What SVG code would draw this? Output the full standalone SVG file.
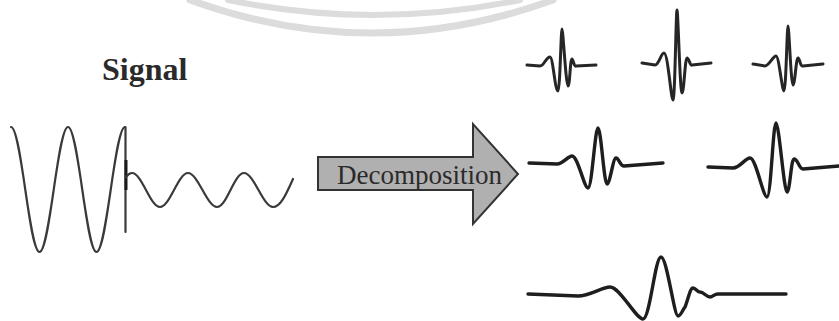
<svg xmlns="http://www.w3.org/2000/svg" width="839" height="321" viewBox="0 0 839 321">
<style>
.wm{fill:none;stroke:#dcdcdc;stroke-linecap:round}
.sig{fill:none;stroke:#3a3a3a;stroke-width:2.2;stroke-linejoin:round;stroke-linecap:round}
.wav{fill:none;stroke:#262626;stroke-width:3;stroke-linejoin:round;stroke-linecap:round}
.wav2{fill:none;stroke:#1e1e1e;stroke-width:3.4;stroke-linejoin:round;stroke-linecap:round}
.lbl{fill:#2a2a2a}
</style>
<rect width="839" height="321" fill="#ffffff"/>
<g id="watermark">
<path class="wm" stroke-width="7" d="M190,0 Q371,66 553,0"/>
<path class="wm" stroke-width="6" d="M228,0 Q374,30 520,0"/>
</g>
<g id="signal">
<text class="lbl" font-family="'Liberation Serif', 'Times New Roman', serif" x="102" y="80" font-size="32" font-weight="bold" fill="#333">Signal</text>
<path class="sig" d="M11,127 C21.3,127 29.2,252 39.5,252 C49.8,252 57.7,127 68,127 C78.3,127 86.2,252 96.5,252 C106.8,252 114.7,127 125,127"/>
<path class="sig" d="M125.5,127 L125.5,232"/>
<path d="M126,160 L126,190" stroke="#1a1a1a" stroke-width="3" fill="none"/>
<path class="sig" d="M126,177 Q129,173 132,173 C142,173 150,207 160,207 C170,207 178,173 188,173 C198,173 207,207 217,207 C227,207 234,173 244,173 C254,173 263,207 273,207 C281,207 287,192 293,179"/>
</g>
<g id="decomposition">
<polygon points="318,157 473,157 473,124 518,174 473,224 473,190 318,190" fill="#b0b0b0" stroke="#333" stroke-width="2" stroke-linejoin="miter"/>
<text class="lbl" font-family="'Liberation Serif', 'Times New Roman', serif" x="337" y="184" font-size="28" textLength="165" lengthAdjust="spacingAndGlyphs" fill="#1a1a1a">Decomposition</text>
<circle cx="530" cy="163" r="1" fill="#777"/>
</g>
<g id="wavelet1">
<path class="wav" d="M527,65 L540,66 C544,66 546,57 550,57 C553,57 555,91 558,91 C560,91 561,29 562,29 C563,29 566,86 568,86 C570,86 570,59 572,59 C573,59 574,67 576,66 L596,65"/>
</g>
<g id="wavelet2">
<path class="wav" d="M642,63 L655,65 C659,65 661,53 664,53 C668,53 671,100 673,100 C675,100 676,10 677,10 C678,10 680,93 682,93 C684,93 685,58 687,58 C689,58 690,66 692,65 L711,63"/>
</g>
<g id="wavelet3">
<path class="wav" d="M753,64 L765,66 C769,66 773,56 776,56 C779,56 782,91 784,91 C786,91 787,26 788,26 C789,26 791,85 793,85 C795,85 796,58 798,58 C800,58 800,67 803,66 L823,64"/>
</g>
<g id="wavelet4">
<path class="wav2" d="M529,163 L557,164 C563,164 568,156 572,156 C578,156 584,188 588,188 C592,188 595,128 598,128 C601,128 604,184 607,184 C610,184 613,158 616,158 C619,158 620,166 624,166 L663,163"/>
</g>
<g id="wavelet5">
<path class="wav2" d="M708,167 L733,168 C740,168 745,158 750,158 C756,158 763,197 767,197 C771,197 773,123 776,123 C779,123 784,192 787,192 C790,192 791,159 794,159 C798,159 799,169 803,169 L839,166"/>
</g>
<g id="wavelet6">
<path class="wav2" d="M528,294 L578,296 C590,296 602,287 610,287 C620,287 636,319 643,319 C650,319 655,257 661,257 C667,257 674,316 678,316 C681,316 683,309 685,307 C688,300 690,288 693,288 C696,288 697,292 700,292 C704,292 706,297 710,297 C713,297 714,294 718,294 L786,294"/>
</g>
<g id="connectors"></g>
</svg>
